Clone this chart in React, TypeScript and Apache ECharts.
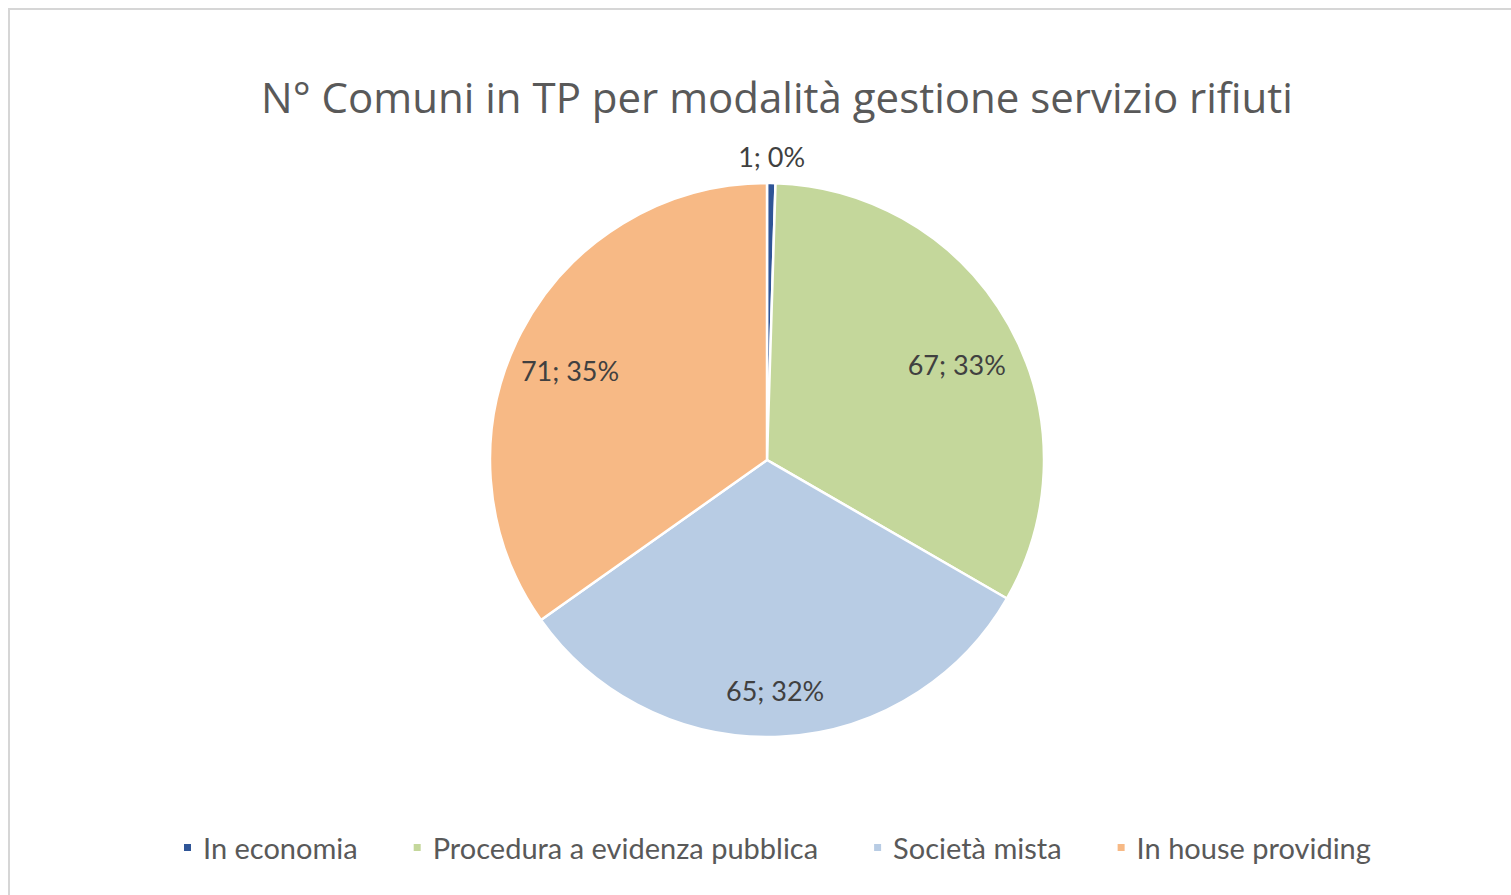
import React, { useEffect, useRef } from "react";
import * as echarts from "echarts";

const titleText = "N° Comuni in TP per modalità gestione servizio rifiuti";
const categories = ["In economia", "Procedura a evidenza pubblica", "Società mista", "In house providing"];
const values = [1, 67, 65, 71];
const percents = ["0%", "33%", "32%", "35%"];
const colors = ["#2f5597", "#c4d79b", "#b8cce4", "#f7b985"];

const FONT = "Lato, 'Open Sans', sans-serif";

export default function App() {
  const ref = useRef<HTMLDivElement>(null);
  useEffect(() => {
    if (!ref.current) return;
    const chart = echarts.init(ref.current, undefined, { renderer: "svg" });
    const visibleData = categories.map((name, i) => ({
      name,
      value: values[i],
      itemStyle: { color: colors[i] },
      label:
        i === 0
          ? {
              show: true,
              position: "outside",
              formatter: () => `${values[i]}; ${percents[i]}`,
              color: "#404040",
              fontSize: 27,
              fontFamily: FONT,
              distanceToLabelLine: 0,
            }
          : { show: false },
      labelLine: { show: false, length: 27, length2: 0 },
    }));
    const labelData = categories.map((name, i) => ({
      name,
      value: values[i],
      label: {
        show: i !== 0,
        position: "inside",
        formatter: () => `${values[i]}; ${percents[i]}`,
        color: "#404040",
        fontSize: 27,
        fontFamily: FONT,
        offset: [-2, 11],
      },
    }));
    chart.setOption({
      animation: false,
      backgroundColor: "#ffffff",
      title: {
        text: titleText,
        left: 762,
        top: 60,
        textAlign: "center",
        textStyle: { color: "#595959", fontSize: 42, fontWeight: "normal", fontFamily: "'Open Sans', sans-serif" },
      },
      legend: {
        data: categories,
        left: 167,
        top: 818,
        itemWidth: 9,
        itemHeight: 9,
        itemGap: 54,
        icon: "rect",
        textStyle: { color: "#595959", fontSize: 29, fontFamily: FONT, padding: [0, 0, 0, 6] },
        selectedMode: false,
      },
      series: [
        {
          type: "pie",
          center: [757, 450],
          radius: [0, 277],
          startAngle: 90,
          clockwise: true,
          itemStyle: { borderColor: "#ffffff", borderWidth: 2.5 },
          labelLayout: (p: any) => (p.dataIndex === 0 ? { align: "center" } : {}),
          data: visibleData,
          emphasis: { disabled: true },
        },
        {
          type: "pie",
          center: [757, 450],
          radius: [156, 277],
          startAngle: 90,
          clockwise: true,
          silent: true,
          itemStyle: { color: "transparent", borderWidth: 0 },
          labelLine: { show: false },
          data: labelData,
          emphasis: { disabled: true },
        },
      ],
    });
    return () => chart.dispose();
  }, []);
  return (
    <div
      style={{
        position: "fixed",
        left: 8,
        top: 8,
        width: 1503,
        height: 887,
        borderTop: "2px solid #d6d6d6",
        borderLeft: "2px solid #d6d6d6",
        boxSizing: "border-box",
        overflow: "hidden",
        background: "#fff",
      }}
    >
      <div ref={ref} style={{ width: 1501, height: 885 }} />
    </div>
  );
}
